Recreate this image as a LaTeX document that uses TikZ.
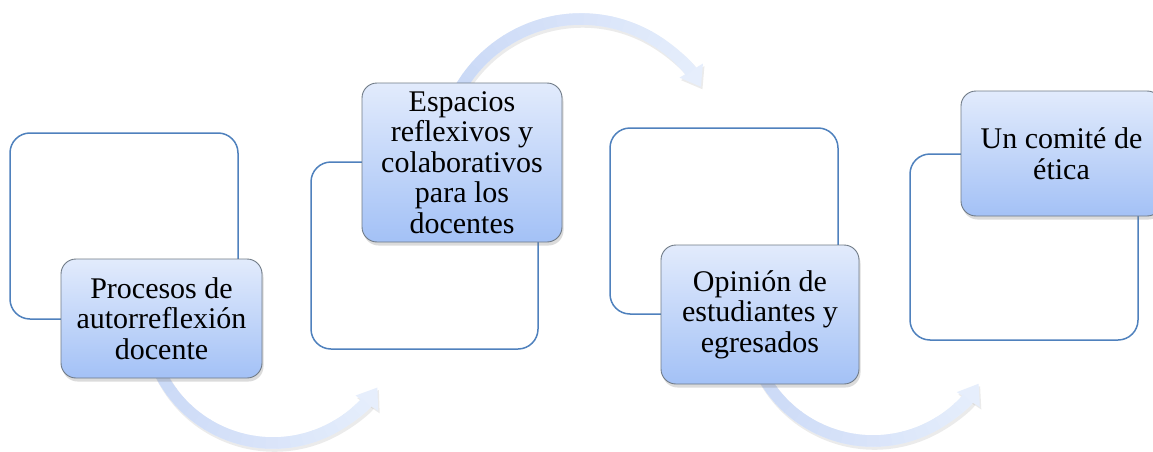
\documentclass[tikz,border=0pt]{standalone}
\usepackage{fontspec}
\setmainfont{Liberation Serif}
\usetikzlibrary{arrows.meta,shadows}
\definecolor{outl}{HTML}{4F81BD}
\definecolor{ftop}{HTML}{E2EBFC}
\definecolor{fbot}{HTML}{A3C1F6}
\definecolor{fline}{HTML}{6F7A86}
\definecolor{arrS}{HTML}{CAD9F6}
\definecolor{arrE}{HTML}{E6EEFC}
\tikzset{
  obox/.style={draw=outl, line width=1.5pt, rounded corners=20pt, fill=white, inner sep=0pt},
  fbox/.style={draw=fline, line width=0.9pt, rounded corners=15pt, top color=ftop, bottom color=fbot,
    align=center, inner sep=0pt, font=\fontsize{30}{30.5}\selectfont,
    drop shadow={shadow xshift=1.5pt, shadow yshift=-3.5pt, opacity=0.28}},
  arcline/.style={line width=11.5pt},
}
% #1 center name, #2 radius, #3 start angle, #4 end angle (tip), #5 head angle
\newcommand{\shadedarc}[5]{%
  \draw[black, opacity=0.08, line width=12.5pt, -{Triangle[width=26pt,length=19pt]}]
    ([shift={(#3:#2)}, xshift=1.5pt, yshift=-2.5pt]#1) arc[start angle=#3, end angle=#4, radius=#2];
  \draw[arcline, arrE, -{Triangle[width=26pt,length=19pt]}]
    ([shift={(#3:#2)}]#1) arc[start angle=#3, end angle=#4, radius=#2];
  \pgfmathsetmacro\myd{((#4)-(#5)-(#3))/20}
  \foreach \i in {0,...,19}{%
    \pgfmathtruncatemacro\pp{100-5*\i}
    \pgfmathsetmacro\aa{#3+\i*\myd}
    \pgfmathsetmacro\bb{#3+(\i+1)*\myd+0.4*sign(\myd)}
    \draw[arcline, arrS!\pp!arrE] ([shift={(\aa:#2)}]#1) arc[start angle=\aa, end angle=\bb, radius=#2];
  }%
}
\begin{document}
\begin{tikzpicture}[x=1pt,y=1pt]
\useasboundingbox (0,0) rectangle (1153,451);
\clip (0,0) rectangle (1153,451);
\fill[white] (0,0) rectangle (1153,451);

% outline boxes
\node[obox, minimum width=228pt, minimum height=186pt] (o1) at (124,225) {};
\node[obox, minimum width=227pt, minimum height=187pt] (o2) at (424.5,195.5) {};
\node[obox, minimum width=228pt, minimum height=186pt] (o3) at (724,230) {};
\node[obox, minimum width=228pt, minimum height=186pt] (o4) at (1024,204) {};

% arc centres
\coordinate (c1) at (273,134);
\coordinate (c2) at (581,292);
\coordinate (c3) at (873,136);

% arrows
\shadedarc{c1}{126}{205}{326}{9}
\shadedarc{c2}{140}{150}{31}{-8}
\shadedarc{c3}{126}{205}{327}{9}

% filled boxes
\node[fbox, minimum width=201pt, minimum height=119pt] (f1) at (161.5,132.5) {Procesos de\\autorreflexión\\docente};
\node[fbox, minimum width=200pt, minimum height=159pt] (f2) at (462,288.5) {Espacios\\reflexivos y\\colaborativos\\para los\\docentes};
\node[fbox, minimum width=198pt, minimum height=139pt] (f3) at (760,136.5) {Opinión de\\estudiantes y\\egresados};
\node[fbox, minimum width=201pt, minimum height=125pt] (f4) at (1061.5,297.5) {Un comité de\\ética};
\end{tikzpicture}
\end{document}
